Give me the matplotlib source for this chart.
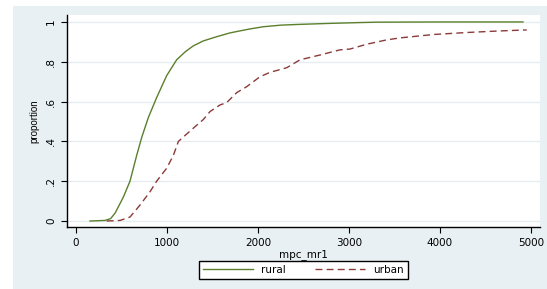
import matplotlib.pyplot as plt
from matplotlib.patches import Rectangle

# cumulative distribution of mpc_mr1 by sector
rural_x = [154, 319, 380, 430, 520, 593, 667, 722, 795, 886, 996, 1106, 1200, 1289, 1400,
           1546, 1692, 1800, 1912, 2058, 2250, 2462, 2800, 3121, 3308, 4000, 4912]
rural_y = [0.0, 0.003, 0.012, 0.04, 0.12, 0.20, 0.33, 0.42, 0.52, 0.62, 0.73, 0.81, 0.85, 0.88, 0.905,
           0.926, 0.945, 0.955, 0.965, 0.976, 0.984, 0.988, 0.993, 0.997, 0.999, 1.0, 1.0]

urban_x = [337, 484, 593, 703, 813, 886, 996, 1070, 1125, 1253, 1399, 1473, 1582, 1656,
           1766, 1876, 2022, 2132, 2315, 2462, 2681, 2901, 3011, 3194, 3414, 3560, 3927,
           4293, 4659, 4953]
urban_y = [0.0, 0.003, 0.02, 0.08, 0.147, 0.20, 0.265, 0.33, 0.40, 0.452, 0.51, 0.55, 0.583, 0.595,
           0.645, 0.675, 0.725, 0.747, 0.77, 0.81, 0.834, 0.86, 0.864, 0.888, 0.91, 0.92, 0.937,
           0.947, 0.955, 0.96]

xticks = [0, 1000, 2000, 3000, 4000, 5000]
yticks = [0, 0.2, 0.4, 0.6, 0.8, 1.0]
ytick_labels = ["0", ".2", ".4", ".6", ".8", "1"]

plt.rcParams['font.family'] = ['DejaVu Sans']

fig = plt.figure(figsize=(5.47, 2.89), dpi=100)
# stata-like outer background, kept behind the axes
fig.patches.append(Rectangle((13/547, 0), 1 - 13/547, 1 - 6/289, transform=fig.transFigure,
                             facecolor='#e9f0f3', edgecolor='none', zorder=-10))

ax = fig.add_axes([67/547, 62/289, 473/547, 212/289])
ax.set_facecolor('white')

ax.plot(rural_x, rural_y, color='#5b7f2c', lw=1.0, label='rural')
ax.plot(urban_x, urban_y, color='#8b3a3a', lw=1.0, ls=(0, (5, 3)), label='urban')

ax.set_xlim(-99, 5099)
ax.set_ylim(-0.03, 1.035)
ax.set_xticks(xticks)
ax.set_yticks(yticks)
ax.set_yticklabels(ytick_labels, rotation=90, va='center')
ax.tick_params(labelsize=7.5, length=4, width=0.8, direction='out', pad=4)
ax.grid(axis='y', color='#e6edf0', lw=1.0)
ax.set_axisbelow(True)

for side in ['top', 'right']:
    ax.spines[side].set_visible(False)
ax.spines['left'].set_linewidth(1.0)
ax.spines['bottom'].set_linewidth(1.0)

ax.set_xlabel('mpc_mr1', fontsize=7.5, labelpad=1)
ax.set_ylabel('proportion', fontsize=7, family=['Liberation Sans'], labelpad=5)

leg = fig.legend(loc='center', bbox_to_anchor=(303.5/547, 19/289), ncol=2, fontsize=7.5,
                 fancybox=False, edgecolor='black', framealpha=1, handlelength=4.8,
                 columnspacing=2.8, borderpad=0.4)
leg.get_frame().set_linewidth(1.0)

fig.savefig('out.png', dpi=100)
